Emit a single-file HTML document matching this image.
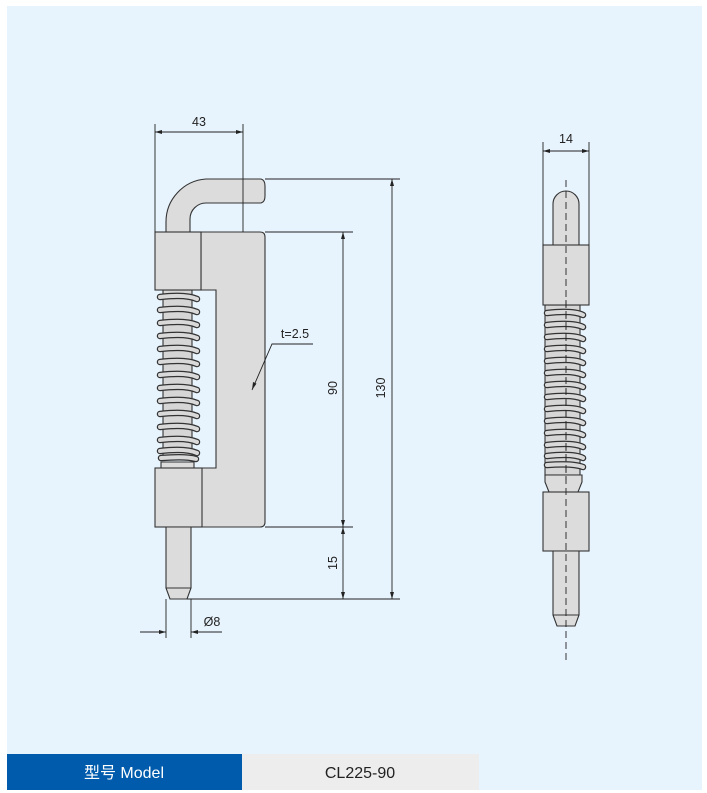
<!DOCTYPE html>
<html><head><meta charset="utf-8"><style>
html,body{margin:0;padding:0;background:#fff;width:707px;height:793px;overflow:hidden}
svg{display:block}
text{font-family:"Liberation Sans",Arial,sans-serif;fill:#222}
</style></head><body>
<svg width="707" height="793" viewBox="0 0 707 793" xmlns="http://www.w3.org/2000/svg">
<rect x="7" y="6" width="695" height="784" fill="#e8f4fd"/>
<rect x="7" y="754" width="235" height="36" fill="#005bac"/>
<rect x="242" y="754" width="237" height="36" fill="#ededed"/>
<text x="124" y="778" font-size="16" text-anchor="middle" style="fill:#fff;font-family:'Liberation Sans','Noto Sans CJK SC',sans-serif">型号 Model</text>
<text x="360" y="778" font-size="16" text-anchor="middle">CL225-90</text>

<g stroke="#333" stroke-width="1.1" fill="#dcdcdc">
<path d="M166 232 L166 222 A43 43 0 0 1 206 179 L261 179 Q265 180 265 186 L265 196 Q265 202 261 203 L206 203 A16 16 0 0 0 190 219 L190 232 Z"/>
<path d="M201 232 L260 232 Q265 232 265 237 L265 522 Q265 527 260 527 L201 527 L201 468 L216 468 L216 290 L201 290 Z"/>
<rect x="163" y="290" width="29" height="170" fill="#d6d6d6"/>
<path d="M161 468 L161 462 L194 462 L194 468" />
<rect x="155" y="232" width="46" height="58"/>
<rect x="155" y="468" width="47" height="59"/>
<path d="M166 527 L166 588 L170 599 L187 599 L191 588 L191 527 Z"/>
<line x1="166" y1="588" x2="191" y2="588"/>
</g>

<g stroke="#222" stroke-width="0.9" fill="none">
<line x1="155" y1="124" x2="155" y2="232"/>
<line x1="243" y1="124" x2="243" y2="232"/>
<line x1="155" y1="132" x2="243" y2="132"/>
<line x1="265" y1="179" x2="400" y2="179"/>
<line x1="265" y1="232" x2="353" y2="232"/>
<line x1="265" y1="527" x2="353" y2="527"/>
<line x1="187" y1="599" x2="400" y2="599"/>
<line x1="343" y1="232" x2="343" y2="599"/>
<line x1="392" y1="179" x2="392" y2="599"/>
<line x1="166" y1="599" x2="166" y2="638"/>
<line x1="191" y1="599" x2="191" y2="638"/>
<line x1="140" y1="632" x2="166" y2="632"/>
<line x1="191" y1="632" x2="222" y2="632"/>
<path d="M313 344 L272 344 L252 390"/>
</g>
<g fill="#222">
<path d="M155 132 l7 -2 v4z"/><path d="M243 132 l-7 -2 v4z"/>
<path d="M343 232 l-2 7 h4z"/><path d="M343 527 l-2 -7 h4z"/>
<path d="M343 527 l-2 7 h4z"/><path d="M343 599 l-2 -7 h4z"/>
<path d="M392 179 l-2 7 h4z"/><path d="M392 599 l-2 -7 h4z"/>
<path d="M166 632 l-7 -2 v4z"/><path d="M191 632 l7 -2 v4z"/>
<path d="M252 390 l1 -8 l3.5 1.6z"/>
</g>
<text x="199" y="126" font-size="12.5" text-anchor="middle">43</text>
<text x="295" y="338" font-size="12.5" text-anchor="middle">t=2.5</text>
<text x="212" y="626" font-size="12.5" text-anchor="middle">Ø8</text>
<text transform="translate(337,388) rotate(-90)" font-size="12.5" text-anchor="middle">90</text>
<text transform="translate(337,563) rotate(-90)" font-size="12.5" text-anchor="middle">15</text>
<text transform="translate(385,388) rotate(-90)" font-size="12.5" text-anchor="middle">130</text>

<g stroke="#333" stroke-width="1.1" fill="#dcdcdc">
<path d="M553 245 L553 204 A13 13 0 0 1 579 204 L579 245 Z"/>
<rect x="545" y="305" width="35" height="170" fill="#d6d6d6"/>
<path d="M549 492 L545 482 L545 475 L582 475 L582 482 L578 492 Z"/>
<rect x="543" y="245" width="46" height="60"/>
<rect x="543" y="492" width="46" height="59"/>
<path d="M553 551 L553 615 L557 626 L575 626 L579 615 L579 551 Z"/>
<line x1="553" y1="615" x2="579" y2="615"/>
</g>
<g stroke="#222" stroke-width="0.9" fill="none">
<line x1="543" y1="142" x2="543" y2="245"/>
<line x1="589" y1="142" x2="589" y2="245"/>
<line x1="543" y1="151" x2="589" y2="151"/>
<line x1="566" y1="180" x2="566" y2="660" stroke-dasharray="7,4"/>
</g>
<g fill="#222"><path d="M543 151 l7 -2 v4z"/><path d="M589 151 l-7 -2 v4z"/></g>
<text x="566" y="143" font-size="12.5" text-anchor="middle">14</text>

<g fill="none" stroke-linecap="round">
<g stroke="#333" stroke-width="6.5">
<path d="M160 297 Q186 294 197 299"/><path d="M160 310 Q186 307 197 312"/><path d="M160 323 Q186 320 197 325"/><path d="M160 336 Q186 333 197 338"/><path d="M160 349 Q186 346 197 351"/><path d="M160 362 Q186 359 197 364"/><path d="M160 375 Q186 372 197 377"/><path d="M160 388 Q186 385 197 390"/><path d="M160 401 Q186 398 197 403"/><path d="M160 414 Q186 411 197 416"/><path d="M160 427 Q186 424 197 429"/><path d="M160 440 Q186 437 197 442"/><path d="M160 451 Q186 448 197 453"/><path d="M161 458 Q186 456 196 459"/>
<path d="M547 313 Q573 310 583 315"/><path d="M547 325 Q573 322 583 327"/><path d="M547 337 Q573 334 583 339"/><path d="M547 349 Q573 346 583 351"/><path d="M547 361 Q573 358 583 363"/><path d="M547 373 Q573 370 583 375"/><path d="M547 385 Q573 382 583 387"/><path d="M547 397 Q573 394 583 399"/><path d="M547 409 Q573 406 583 411"/><path d="M547 421 Q573 418 583 423"/><path d="M547 433 Q573 430 583 435"/><path d="M547 445 Q573 442 583 447"/><path d="M547 456 Q573 453 583 458"/><path d="M547 465 Q573 463 583 467"/>
</g>
<g stroke="#d9d9d9" stroke-width="4">
<path d="M160 297 Q186 294 197 299"/><path d="M160 310 Q186 307 197 312"/><path d="M160 323 Q186 320 197 325"/><path d="M160 336 Q186 333 197 338"/><path d="M160 349 Q186 346 197 351"/><path d="M160 362 Q186 359 197 364"/><path d="M160 375 Q186 372 197 377"/><path d="M160 388 Q186 385 197 390"/><path d="M160 401 Q186 398 197 403"/><path d="M160 414 Q186 411 197 416"/><path d="M160 427 Q186 424 197 429"/><path d="M160 440 Q186 437 197 442"/><path d="M160 451 Q186 448 197 453"/><path d="M161 458 Q186 456 196 459"/>
<path d="M547 313 Q573 310 583 315"/><path d="M547 325 Q573 322 583 327"/><path d="M547 337 Q573 334 583 339"/><path d="M547 349 Q573 346 583 351"/><path d="M547 361 Q573 358 583 363"/><path d="M547 373 Q573 370 583 375"/><path d="M547 385 Q573 382 583 387"/><path d="M547 397 Q573 394 583 399"/><path d="M547 409 Q573 406 583 411"/><path d="M547 421 Q573 418 583 423"/><path d="M547 433 Q573 430 583 435"/><path d="M547 445 Q573 442 583 447"/><path d="M547 456 Q573 453 583 458"/><path d="M547 465 Q573 463 583 467"/>
</g>
</g>
<line x1="566" y1="300" x2="566" y2="480" stroke="#222" stroke-width="0.9" stroke-dasharray="7,4"/>
</svg>
</body></html>
